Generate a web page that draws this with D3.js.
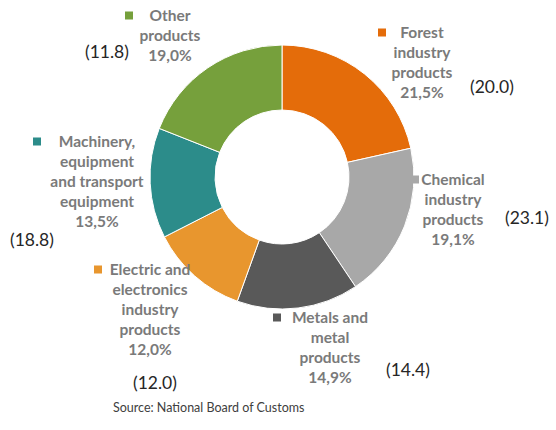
<!DOCTYPE html>
<html>
<head>
<meta charset="utf-8">
<script src="https://cdn.jsdelivr.net/npm/d3@7/dist/d3.min.js"></script>
<style>
  html, body { margin: 0; padding: 0; background: #fff; }
  svg { display: block; }
</style>
</head>
<body>
<svg id="chart" width="556" height="430"></svg>
<script>
// ---- data ----
const categories = [
  "Forest industry products",
  "Chemical industry products",
  "Metals and metal products",
  "Electric and electronics industry products",
  "Machinery, equipment and transport equipment",
  "Other products"
];
const labelLines = [
  ["Forest", "industry", "products"],
  ["Chemical", "industry", "products"],
  ["Metals and", "metal", "products"],
  ["Electric and", "electronics", "industry", "products"],
  ["Machinery,", "equipment", "and transport", "equipment"],
  ["Other", "products"]
];
const shares = [21.5, 19.1, 14.9, 12.0, 13.5, 19.0];       // current share, %
const previous = [20.0, 23.1, 14.4, 12.0, 18.8, 11.8];     // value in parentheses
const colors = ["#E46C0A", "#A8A8A8", "#595959", "#E8962E", "#2C8C8A", "#76A03C"];
const sourceText = "Source: National Board of Customs";

// ---- layout (positions only) ----
const cx = 282, cy = 177, rOuter = 132, rInner = 67;
const labelLayout = [
  { x: 422, y: 33,  key: 378, nx: 470, ny: 87 },
  { x: 453, y: 180, key: 411, nx: 505, ny: 218 },
  { x: 330, y: 318, key: 273, nx: 386, ny: 370 },
  { x: 150, y: 270, key: 94,  nx: 133, ny: 383 },
  { x: 97,  y: 142, key: 33,  nx: 10,  ny: 240 },
  { x: 170, y: 16,  key: 125, nx: 85,  ny: 52 }
];
const lineStep = 19.8;

const svg = d3.select("#chart");
const data = categories.map((c, i) => ({ cat: c, share: shares[i], prev: previous[i], i }));

const pie = d3.pie().value(d => d.share).sort(null);
const arc = d3.arc().innerRadius(rInner).outerRadius(rOuter);
const color = d3.scaleOrdinal().domain(categories).range(colors);

svg.append("g").attr("transform", `translate(${cx},${cy})`)
  .selectAll("path").data(pie(data)).join("path")
  .attr("d", arc)
  .attr("fill", d => color(d.data.cat))
  .attr("stroke", "#fff").attr("stroke-width", 1);

const fmtPct = v => d3.format(".1f")(v).replace(".", ",") + "%";
const fmtPrev = v => "(" + d3.format(".1f")(v) + ")";

const labels = svg.append("g").selectAll("g").data(data).join("g");

labels.each(function(d) {
  const g = d3.select(this);
  const L = labelLayout[d.i];
  const lines = labelLines[d.i].concat([fmtPct(d.share)]);
  g.append("rect")
    .attr("x", L.key).attr("y", L.y - 4.5)
    .attr("width", 8).attr("height", 8)
    .attr("fill", color(d.cat));
  lines.forEach((t, k) => {
    g.append("text")
      .attr("x", L.x).attr("y", L.y + k * lineStep)
      .attr("dy", "0.35em")
      .attr("text-anchor", "middle")
      .attr("font-family", "Lato, 'Open Sans', sans-serif")
      .attr("font-weight", "bold")
      .attr("font-size", 15.5)
      .attr("fill", "#7a7a7a")
      .text(t);
  });
  g.append("text")
    .attr("x", L.nx).attr("y", L.ny)
    .attr("dy", "0.35em")
    .attr("font-family", "Lato, 'Open Sans', sans-serif")
    .attr("font-size", 17.5)
    .attr("fill", "#262626")
    .text(fmtPrev(d.prev));
});

svg.append("text")
  .attr("x", 113).attr("y", 408).attr("dy", "0.35em")
  .attr("font-family", "Lato, 'Open Sans', sans-serif")
  .attr("font-size", 12.5)
  .attr("fill", "#404040")
  .text(sourceText);
</script>
</body>
</html>
